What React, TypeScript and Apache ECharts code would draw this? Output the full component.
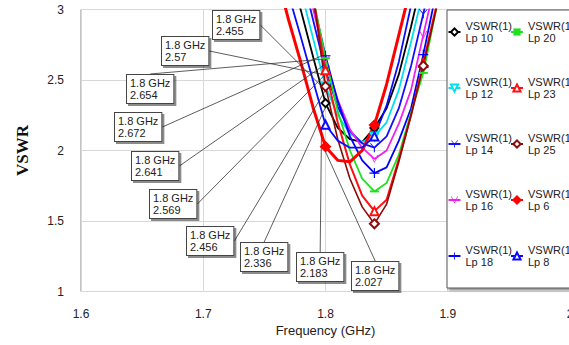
import React, { useEffect, useRef } from "react";
import * as echarts from "echarts";

// ---- data ----
const FREQ = [1.76, 1.77, 1.78, 1.79, 1.8, 1.81, 1.82, 1.83, 1.84, 1.85, 1.86, 1.87, 1.88, 1.89, 1.9];
const LP10 = [null, 3.3, 2.99, 2.66, 2.336, 2.16, 2.08, 2.06, 2.16, 2.3, 2.54, 2.88, 3.25, null, null];
const LP12 = [null, null, 3.13, 2.79, 2.456, 2.25, 2.12, 2.06, 2.1, 2.2, 2.43, 2.77, 3.13, null, null];
const LP14 = [null, null, 3.28, 2.92, 2.569, 2.31, 2.14, 2.05, 2.02, 2.1, 2.3, 2.6, 2.97, 3.35, null];
const LP16 = [null, null, 3.35, 3.0, 2.641, 2.36, 2.15, 2.02, 1.94, 2.0, 2.19, 2.43, 2.82, 3.2, null];
const LP18 = [null, null, 3.45, 3.05, 2.672, 2.35, 2.1, 1.93, 1.84, 1.88, 2.07, 2.3, 2.68, 3.1, null];
const LP20 = [null, null, 3.5, 3.08, 2.654, 2.28, 2.0, 1.8, 1.71, 1.77, 1.97, 2.27, 2.55, 2.98, 3.4];
const LP23 = [null, null, 3.6, 3.08, 2.57, 2.2, 1.9, 1.68, 1.57, 1.65, 1.94, 2.25, 2.62, 3.0, 3.4];
const LP25 = [null, null, 3.7, 3.1, 2.455, 2.08, 1.8, 1.6, 1.48, 1.62, 1.92, 2.25, 2.6, 2.98, 3.4];
const LP6 = [3.25, 2.92, 2.62, 2.3, 2.027, 1.93, 1.92, 2.0, 2.18, 2.47, 2.82, 3.17, null, null, null];
const LP8 = [null, 3.1, 2.8, 2.49, 2.183, 2.07, 2.02, 2.02, 2.1, 2.32, 2.63, 3.03, null, null, null];

const MARK_FREQ = [1.8, 1.84, 1.88];
const LABEL_FREQ = 1.8;
const X_TICKS = [1.6, 2.0, 0.1];
const Y_TICKS = [1, 3, 0.5];

// ---- styling / layout ----
const PATH_PLUS = "path://M4.4,0H5.6V4.4H10V5.6H5.6V10H4.4V5.6H0V4.4H4.4Z";
const PATH_Y = "path://M0,0H1.2L5,4.6L8.8,0H10L5.6,5.4V10H4.4V5.4Z";
const PATH_V = "path://M0,0H1.2L5,8.2L8.8,0H10L5,10Z";
const PATH_DASH = "path://M0,0H10V2H0Z";

const SERIES = [
  { name: "Lp 10", values: LP10, color: "#000000", width: 1.8, symbol: "emptyDiamond", size: 8, box: [241, 243] },
  { name: "Lp 12", values: LP12, color: "#00e0f0", width: 1.8, symbol: "emptyTriangle", size: 8, rotate: 180, box: [187, 227] },
  { name: "Lp 14", values: LP14, color: "#1010ff", width: 1.8, symbol: PATH_Y, size: 9, bw: 0, box: [150, 190] },
  { name: "Lp 16", values: LP16, color: "#f020f0", width: 1.8, symbol: PATH_V, size: 8, bw: 0, box: [132, 152] },
  { name: "Lp 18", values: LP18, color: "#0000ff", width: 1.8, symbol: PATH_PLUS, size: 10, bw: 0, box: [115, 113] },
  { name: "Lp 20", values: LP20, color: "#20e020", width: 1.8, symbol: PATH_DASH, size: [9, 2], bw: 0, box: [127, 75] },
  { name: "Lp 23", values: LP23, color: "#ff1010", width: 2, symbol: "emptyTriangle", size: 8, box: [162, 37] },
  { name: "Lp 25", values: LP25, color: "#8b0a0a", width: 1.6, symbol: "emptyDiamond", size: 9, box: [213, 11] },
  { name: "Lp 6", values: LP6, color: "#ff0000", width: 3, symbol: "diamond", size: 10, box: [352, 262] },
  { name: "Lp 8", values: LP8, color: "#0a0aff", width: 1.8, symbol: "emptyTriangle", size: 8, box: [297, 253] },
];

const FONT = "Liberation Sans, Arial, sans-serif";

function buildSeries(cfg: any) {
  const data = FREQ.map((f, i) => [f, cfg.values[i]])
    .filter((d) => d[1] != null)
    .map((d) => {
      const isMark = MARK_FREQ.some((m) => Math.abs(m - (d[0] as number)) < 1e-6);
      const item: any = { value: d };
      if (!isMark) item.symbol = "none";
      if (Math.abs((d[0] as number) - LABEL_FREQ) < 1e-6) item.label = { show: true };
      return item;
    });
  return {
    type: "line",
    name: cfg.name,
    data,
    clip: true,
    z: 2,
    lineStyle: { color: cfg.color, width: cfg.width },
    itemStyle: { color: cfg.color, borderColor: cfg.color, borderWidth: cfg.bw ?? 1.3 },
    symbol: cfg.symbol,
    symbolSize: cfg.size,
    symbolRotate: cfg.rotate || 0,
    showSymbol: true,
    emphasis: { disabled: true },
    label: {
      show: false,
      formatter: (p: any) => `${p.value[0]} GHz\n${p.value[1]}`,
      fontSize: 11,
      fontFamily: FONT,
      color: "#222",
      lineHeight: 12,
      backgroundColor: "#fff",
      borderColor: "#444",
      borderWidth: 1,
      padding: [2, 3, 2, 3],
      shadowColor: "rgba(0,0,0,0.45)",
      shadowOffsetX: 2,
      shadowOffsetY: 2,
      shadowBlur: 1,
      align: "left",
    },
    labelLayout: { x: cfg.box[0], y: cfg.box[1], align: "left", verticalAlign: "top" },
    labelLine: { show: true, lineStyle: { color: "#333", width: 0.8 } },
  };
}

const legendCommon = {
  orient: "vertical",
  top: 14,
  padding: 0,
  itemGap: 20,
  itemWidth: 12,
  itemHeight: 9,
  selectedMode: false,
  z: 6,
  formatter: (name: string) => `VSWR(1)\n${name}`,
  textStyle: {
    fontSize: 11,
    fontFamily: FONT,
    color: "#222",
    lineHeight: 12,
    padding: [12, 0, 0, 0],
  },
};

export default function App() {
  const ref = useRef<HTMLDivElement>(null);
  useEffect(() => {
    document.body.style.margin = "0";
    const chart = echarts.init(ref.current!, null, { renderer: "svg" });
    chart.setOption({
      animation: false,
      backgroundColor: "#fff",
      grid: {
        left: 81,
        top: 9.5,
        width: 489,
        height: 282,
        show: true,
        borderColor: "#888",
        borderWidth: 1,
        containLabel: false,
        outerBoundsMode: "none",
      },
      xAxis: {
        type: "value",
        min: X_TICKS[0],
        max: X_TICKS[1],
        interval: X_TICKS[2],
        name: "Frequency (GHz)",
        nameLocation: "middle",
        nameGap: 32,
        nameTextStyle: { fontSize: 13, fontFamily: FONT, color: "#222" },
        axisLine: { show: false },
        axisTick: { show: false },
        axisLabel: { fontSize: 12, fontFamily: FONT, color: "#222", margin: 16 },
        splitLine: { show: true, lineStyle: { color: "#d8d8d8", width: 1 } },
      },
      yAxis: {
        type: "value",
        min: Y_TICKS[0],
        max: Y_TICKS[1],
        interval: Y_TICKS[2],
        name: "VSWR",
        nameLocation: "middle",
        nameGap: 50,
        nameRotate: 90,
        nameTextStyle: { fontSize: 17, fontFamily: "Liberation Serif, Times New Roman, serif", fontWeight: "bold", color: "#111" },
        axisLine: { show: false },
        axisTick: { show: false },
        axisLabel: { fontSize: 12, fontFamily: FONT, color: "#222", margin: 17 },
        splitLine: { show: true, lineStyle: { color: "#d8d8d8", width: 1 } },
      },
      legend: [
        { ...legendCommon, left: 447.5, data: SERIES.slice(0, 5).map((s) => s.name) },
        { ...legendCommon, left: 510, data: SERIES.slice(5).map((s) => s.name) },
      ],
      graphic: [
        {
          type: "rect",
          z: 4,
          shape: { x: 447, y: 10, width: 140, height: 278 },
          style: {
            fill: "#fff",
            stroke: "#555",
            lineWidth: 1,
            shadowColor: "rgba(0,0,0,0.45)",
            shadowOffsetX: 2,
            shadowOffsetY: 2,
            shadowBlur: 2,
          },
        },
      ],
      series: SERIES.map(buildSeries),
    });
    return () => chart.dispose();
  }, []);
  return <div ref={ref} style={{ width: 569, height: 345 }} />;
}
